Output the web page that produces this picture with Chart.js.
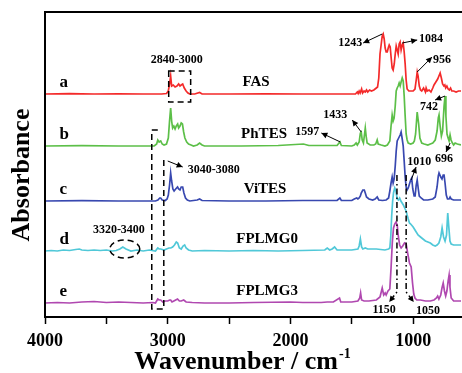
<!DOCTYPE html>
<html><head><meta charset="utf-8">
<script src="https://cdn.jsdelivr.net/npm/chart.js@4/dist/chart.umd.min.js"></script>
<style>html,body{margin:0;padding:0;background:#fff;}#wrap{width:462px;height:373px;position:relative;}</style>
</head><body><div id="wrap"><canvas id="c"></canvas></div>
<script>
// ---- DATA: [wavenumber (cm-1), absorbance (a.u.)] ----
const fasSpectrum = [[4000,0],[3800,.03],[3600,0],[3400,.02],[3200,0],[3050,0],[3010,.05],[2995,.3],[2985,1.0],[2976,1.8],[2968,.8],[2955,.9],[2940,.7],[2925,.8],[2911,1.0],[2900,.8],[2890,.9],[2878,1.0],[2865,.6],[2850,.3],[2835,.1],[2821,0],[2780,0],[2740,.15],[2720,0],[2500,0],[2200,.02],[1900,0],[1600,0],[1470,0],[1455,.2],[1448,.05],[1440,.3],[1432,.1],[1420,.5],[1412,.1],[1400,.3],[1390,.2],[1380,.4],[1370,.2],[1355,.4],[1340,.3],[1320,.4],[1300,.6],[1290,.7],[1280,1.6],[1270,4.0],[1260,5.0],[1252,5.8],[1244,6.0],[1236,5.5],[1228,4.6],[1220,4.2],[1211,4.2],[1203,4.6],[1195,4.9],[1187,4.7],[1179,3.6],[1171,2.6],[1163,2.4],[1154,3.0],[1146,4.0],[1138,4.8],[1130,4.4],[1122,4.0],[1114,5.0],[1106,5.2],[1098,4.4],[1089,4.9],[1081,5.1],[1073,4.2],[1065,3.0],[1057,1.4],[1049,.5],[1035,.3],[1020,.3],[1000,.3],[985,.5],[975,1.4],[967,2.2],[960,1.8],[950,.8],[940,.4],[930,.3],[915,.6],[900,.2],[894,.6],[885,.3],[870,.4],[855,.2],[840,.6],[830,.9],[815,1.2],[800,1.5],[790,1.8],[780,2.1],[770,1.6],[760,1.0],[750,.8],[742,.9],[735,.6],[725,.8],[715,.5],[705,.4],[695,.6],[685,.3],[670,.3],[650,.2],[630,.3],[610,.3]];
const phtesSpectrum = [[4000,0],[3700,.03],[3400,0],[3110,0],[3090,.2],[3081,.6],[3070,.4],[3057,.5],[3045,.2],[3030,.1],[3010,.2],[2995,.8],[2985,2.5],[2976,3.8],[2968,2.5],[2960,1.8],[2950,2.0],[2940,1.7],[2930,2.0],[2919,2.2],[2911,1.8],[2900,2.0],[2890,2.3],[2880,2.2],[2870,1.4],[2860,.8],[2845,.4],[2830,.2],[2810,.1],[2790,0],[2760,.1],[2740,.3],[2720,.1],[2700,0],[2400,0],[2100,.05],[1894,.2],[1850,.05],[1700,.05],[1620,.05],[1597,.4],[1585,.05],[1500,0],[1480,.1],[1465,.3],[1455,.1],[1440,.4],[1430,1.3],[1423,1.4],[1415,.6],[1405,.3],[1398,1.0],[1390,1.8],[1383,1.0],[1375,.3],[1350,.1],[1320,.1],[1305,.2],[1293,.6],[1285,.2],[1260,.1],[1230,0],[1210,.1],[1190,.5],[1180,2.0],[1171,3.1],[1163,2.5],[1155,2.8],[1146,4.0],[1138,5.5],[1130,5.8],[1122,6.0],[1114,6.3],[1106,6.0],[1098,6.4],[1089,6.8],[1081,6.5],[1073,5.0],[1065,3.0],[1057,1.2],[1049,.6],[1040,.3],[1020,.2],[1000,.3],[990,.5],[980,1.2],[967,3.4],[955,2.2],[945,.8],[930,.3],[910,.2],[880,.1],[860,.2],[840,.3],[820,.6],[805,1.5],[795,2.8],[789,3.1],[780,2.0],[770,1.0],[760,1.5],[748,4.0],[740,5.0],[733,3.0],[724,1.2],[715,.8],[707,.5],[699,1.1],[691,.6],[680,.3],[670,.1],[658,.3],[640,.2],[610,.1]];
const vitesSpectrum = [[4000,0],[3700,.03],[3400,0],[3100,0],[3080,.1],[3065,.3],[3057,.3],[3045,.1],[3020,.05],[3005,.2],[2995,.6],[2985,1.6],[2976,2.8],[2968,2.0],[2958,1.2],[2948,1.0],[2935,1.2],[2920,1.4],[2911,1.2],[2900,1.1],[2890,1.4],[2878,1.4],[2868,.8],[2855,.3],[2840,.1],[2820,0],[2760,.1],[2740,.2],[2720,.05],[2500,0],[2200,0],[1900,.05],[1700,.05],[1620,.05],[1597,.3],[1585,.05],[1500,.05],[1480,.2],[1460,.3],[1450,.2],[1440,.3],[1430,.5],[1423,.8],[1410,1.1],[1398,1.1],[1390,.8],[1380,.4],[1360,.2],[1330,.1],[1310,.2],[1293,.4],[1280,.1],[1250,.05],[1220,.1],[1200,.3],[1190,1.0],[1180,1.8],[1171,2.4],[1163,1.8],[1155,2.2],[1146,3.5],[1138,5.0],[1130,6.0],[1122,6.2],[1114,6.4],[1106,6.6],[1098,6.9],[1089,6.2],[1081,5.5],[1073,4.0],[1065,2.4],[1057,1.4],[1049,1.1],[1040,1.3],[1030,1.7],[1020,2.1],[1012,2.3],[1003,1.2],[992,.5],[984,.5],[975,1.6],[967,2.1],[958,1.2],[950,.5],[935,.3],[915,.1],[880,.1],[840,.2],[820,.4],[805,1.4],[795,2.5],[789,2.8],[775,2.4],[765,2.2],[755,2.6],[748,2.6],[740,1.8],[730,.6],[720,.2],[707,.2],[699,.4],[690,.2],[670,.1],[640,.1],[610,.1]];
const fplmg0Spectrum = [[4000,0],[3950,.05],[3900,0],[3850,.1],[3800,.05],[3750,.15],[3720,.2],[3700,.1],[3650,.05],[3600,.1],[3550,.05],[3500,.1],[3450,0],[3420,.05],[3390,.2],[3366,.4],[3340,.2],[3300,0],[3250,.1],[3200,0],[3150,.1],[3100,0],[3081,.3],[3070,.2],[3057,.2],[3030,.1],[3010,.2],[2990,.3],[2975,.3],[2960,.4],[2945,.6],[2930,.9],[2919,.8],[2905,.3],[2890,.2],[2875,.5],[2862,.6],[2850,.3],[2830,.1],[2800,0],[2700,.05],[2500,0],[2300,.05],[2100,0],[1900,.05],[1720,.1],[1700,.3],[1680,.1],[1660,.2],[1640,.4],[1620,.1],[1560,.1],[1500,.1],[1450,.2],[1440,.5],[1430,1.2],[1420,.4],[1410,.2],[1390,.3],[1370,.2],[1300,.2],[1230,.1],[1200,.2],[1190,.3],[1182,1.5],[1175,3.5],[1167,5.0],[1160,5.8],[1150,6.3],[1140,6.0],[1130,5.2],[1120,5.1],[1110,5.3],[1100,5.0],[1090,4.8],[1080,4.6],[1065,4.2],[1057,4.0],[1049,3.6],[1040,3.2],[1030,2.8],[1020,2.7],[1000,2.4],[980,2.0],[960,1.6],[940,1.4],[920,1.2],[900,1.0],[880,.9],[860,.8],[840,.6],[820,.5],[805,.6],[790,.8],[775,1.4],[764,2.3],[752,1.4],[740,1.0],[728,1.6],[718,3.8],[710,2.5],[700,1.0],[690,.7],[670,.6],[640,.6],[610,.6]];
const fplmg3Spectrum = [[4000,0],[3900,.05],[3800,0],[3700,.1],[3600,.15],[3500,.05],[3400,.1],[3300,.05],[3200,0],[3120,.05],[3100,0],[3081,.4],[3070,.3],[3057,.3],[3040,.1],[3020,.2],[3000,.2],[2984,.3],[2976,.3],[2965,.1],[2950,.2],[2935,.3],[2920,.4],[2905,.2],[2890,.2],[2870,.3],[2850,.1],[2800,.05],[2700,0],[2500,0],[2300,.05],[2000,.1],[1900,.05],[1750,.05],[1700,.1],[1650,.1],[1600,.5],[1590,.1],[1540,.1],[1500,.1],[1450,.2],[1435,.5],[1428,1.0],[1420,.3],[1400,.2],[1360,.2],[1300,.3],[1270,.6],[1252,1.5],[1240,.8],[1228,1.0],[1220,.8],[1205,1.2],[1190,1.4],[1180,3.5],[1170,6.0],[1160,7.5],[1150,7.9],[1140,8.1],[1130,7.8],[1120,6.6],[1110,5.8],[1098,5.5],[1085,5.7],[1070,6.0],[1057,5.9],[1045,5.0],[1030,4.0],[1016,3.6],[1005,2.0],[995,.9],[985,.5],[970,.3],[940,.3],[900,.2],[860,.2],[830,.3],[810,.5],[800,.7],[790,.4],[775,.8],[765,1.5],[755,2.0],[745,1.2],[735,.7],[725,1.2],[715,2.2],[707,2.8],[700,1.6],[690,.5],[670,.2],[640,.2],[610,.2]];

const seriesLetters = ['a','b','c','d','e'];
const seriesNames = ['FAS','PhTES','ViTES','FPLMG0','FPLMG3'];
const seriesOffsets = [22.3, 17.1, 11.6, 6.6, 1.4];
const tickValues = [4000,3500,3000,2500,2000,1500,1000];
const tickLabels = ['4000','','3000','','2000','','1000'];
const peakLabels = ['2840-3000','3040-3080','3320-3400','1243','1084','956','742','696','1433','1597','1010','1150','1050'];

// ---- styles / layout ----
const spectra = [fasSpectrum, phtesSpectrum, vitesSpectrum, fplmg0Spectrum, fplmg3Spectrum];
const colors = ['#f42a2a','#5cbf48','#3848b0','#50c8d8','#b048b0'];
const SERIF = '"Liberation Serif","Times New Roman",serif';
const namePosWn = [2280,2215,2207,2190,2190];
const letterWn = 3849;
const peakLabelPos = [[2927,25.7,'center'],[2837,14.7,'left'],[3398,8.7,'center'],[1512,27.4,'center'],[854,27.8,'center'],[764,25.7,'center'],[870,21.0,'center'],[748,15.8,'center'],[1634,20.2,'center'],[1862,18.5,'center'],[951,15.5,'center'],[1236,0.7,'center'],[878,0.6,'center']];
const arrows = [[1252,28.3,1407,27.4],[1089,27.4,967,27.7],[967,24.5,846,26.0],[740,22.1,821,21.7],[699,17.4,732,16.5],[1423,18.5,1496,19.7],[1593,17.5,1748,18.4],[1016,13.7,976,15.0],[3000,15.6,2878,15.0]];

const datasets = spectra.map((s,i)=>({
  label: seriesNames[i],
  data: s.map(p=>({x:p[0], y:p[1]+seriesOffsets[i]})),
  borderColor: colors[i], borderWidth: 1.7, pointRadius: 0, tension: 0, fill:false,
  order: 4-i
}));

function arrowHead(ctx, x1,y1,x2,y2, len=6, w=3){
  const a = Math.atan2(y2-y1, x2-x1);
  ctx.beginPath();
  ctx.moveTo(x2,y2);
  ctx.lineTo(x2 - len*Math.cos(a) + w*Math.sin(a), y2 - len*Math.sin(a) - w*Math.cos(a));
  ctx.lineTo(x2 - len*Math.cos(a) - w*Math.sin(a), y2 - len*Math.sin(a) + w*Math.cos(a));
  ctx.closePath(); ctx.fill();
}

const annot = {
  id:'annot',
  afterDatasetsDraw(chart){
    const {ctx, chartArea:ca, scales:{x,y}} = chart;
    const px = v=>x.getPixelForValue(v), py = v=>y.getPixelForValue(v);
    ctx.save();
    ctx.strokeStyle='#000'; ctx.fillStyle='#000';
    ctx.lineWidth=2; ctx.setLineDash([]);
    ctx.beginPath(); ctx.moveTo(chart.width, ca.top); ctx.lineTo(ca.left, ca.top); ctx.lineTo(ca.left, ca.bottom); ctx.lineTo(chart.width, ca.bottom); ctx.stroke();
    ctx.textBaseline='middle';
    for(let i=0;i<5;i++){
      const yy = py(seriesOffsets[i]+1.15);
      ctx.font='bold 17px '+SERIF; ctx.textAlign='left';
      ctx.fillText(seriesLetters[i], px(letterWn)-4, yy);
      ctx.font='bold 15px '+SERIF; ctx.textAlign='center';
      ctx.fillText(seriesNames[i], px(namePosWn[i]), yy);
    }
    ctx.font='bold 12px '+SERIF;
    peakLabels.forEach((t,i)=>{
      const p = peakLabelPos[i]; ctx.textAlign=p[2];
      ctx.fillText(t, px(p[0]), py(p[1]));
    });
    ctx.lineWidth=1;
    arrows.forEach(a=>{
      const x1=px(a[0]),y1=py(a[1]),x2=px(a[2]),y2=py(a[3]);
      ctx.beginPath(); ctx.moveTo(x1,y1); ctx.lineTo(x2,y2); ctx.stroke();
      arrowHead(ctx,x1,y1,x2,y2);
    });
    ctx.lineWidth=1.5; ctx.setLineDash([6,4]);
    ctx.strokeRect(px(2992), py(24.6), px(2813)-px(2992), py(21.5)-py(24.6));
    ctx.beginPath();
    ctx.moveTo(px(3081),py(18.7)); ctx.lineTo(px(3130),py(18.7)); ctx.lineTo(px(3130),py(0.8));
    ctx.lineTo(px(3032),py(0.8)); ctx.lineTo(px(3032),py(15.7)); ctx.lineTo(px(3005),py(15.7));
    ctx.stroke();
    ctx.beginPath(); ctx.ellipse(px(3350), py(6.8), 15, 9, 0, 0, Math.PI*2); ctx.stroke();
    ctx.setLineDash([6,3,1.5,3]); ctx.lineWidth=1.5;
    [[1132,1195],[1057,995]].forEach(m=>{
      ctx.beginPath(); ctx.moveTo(px(m[0]),py(14.2)); ctx.lineTo(px(m[0]),py(2.5)); ctx.lineTo(px(m[1]),py(1.5)); ctx.stroke();
    });
    ctx.setLineDash([]);
    [[1132,1195],[1057,995]].forEach(m=>arrowHead(ctx,px(m[0]),py(2.5),px(m[1]),py(1.5)));
    ctx.font='bold 26px '+SERIF; ctx.textAlign='left'; ctx.textBaseline='alphabetic';
    const t1='Wavenumber / cm', t2='-1';
    const w1=ctx.measureText(t1).width; ctx.font='bold 14px '+SERIF; const w2=ctx.measureText(t2).width;
    const sx = 242-(w1+w2)/2;
    ctx.font='bold 26px '+SERIF; ctx.fillText(t1, sx, 369);
    ctx.font='bold 14px '+SERIF; ctx.fillText(t2, sx+w1+1, 358);
    ctx.save(); ctx.translate(22,175); ctx.rotate(-Math.PI/2);
    ctx.font='bold 26px '+SERIF; ctx.textAlign='center'; ctx.textBaseline='middle';
    ctx.fillText('Absorbance',0,0); ctx.restore();
    ctx.restore();
  }
};

new Chart(document.getElementById('c'), {
  type:'line',
  data:{datasets},
  options:{
    responsive:true, maintainAspectRatio:false, animation:false, devicePixelRatio:1,
    layout:{padding:{top:12,right:1,left:0,bottom:0}},
    plugins:{legend:{display:false}, tooltip:{enabled:false}},
    scales:{
      x:{type:'linear', reverse:true, min:610, max:4000,
        afterBuildTicks: s=>{ s.ticks = tickValues.map(v=>({value:v})); },
        afterFit: s=>{ s.height = 56; },
        border:{display:false},
        grid:{drawOnChartArea:false, drawTicks:true, tickLength:7, tickWidth:1.5, tickColor:'#000'},
        ticks:{autoSkip:false, maxRotation:0, padding:7, color:'#000', font:{family:SERIF, size:18, weight:'bold'},
          callback:(v)=>{ const i=tickValues.indexOf(v); return i>=0?tickLabels[i]:''; }}
      },
      y:{min:0, max:30.5,
        afterFit: s=>{ s.width = 45; },
        border:{display:false}, grid:{display:false}, ticks:{display:false}}
    }
  },
  plugins:[annot]
});
</script></body></html>
